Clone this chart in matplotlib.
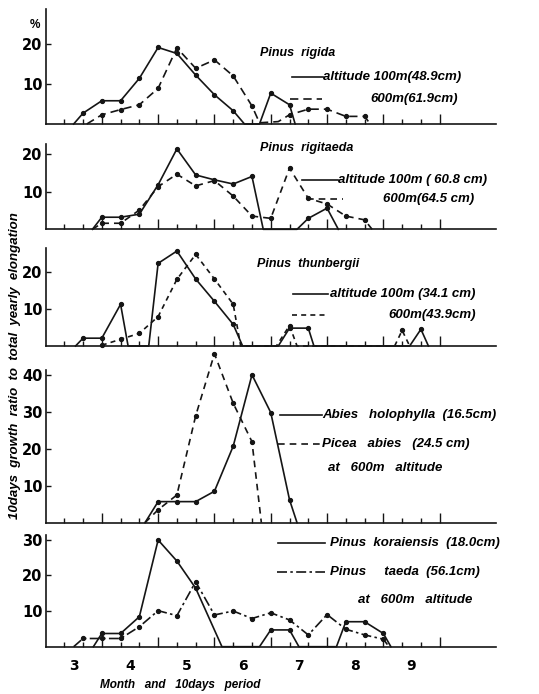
import matplotlib.pyplot as plt
from matplotlib.lines import Line2D
import numpy as np

plt.rcParams['font.family'] = ['Liberation Sans', 'DejaVu Sans']

W, H = 539, 694
INK = '#151515'

# x = ten-day period counted from 1 March (3 periods per month)
rigida_100_x = [1.5, 2, 3, 4, 5, 6, 7, 8, 9, 10, 10.6, 11.4, 12, 13, 13.3]
rigida_100_y = [0, 2.7, 5.8, 5.8, 11.4, 19.1, 17.6, 12.2, 7.3, 3.3, 0, 0, 7.7, 4.8, 0]
rigida_600_x = [2.2, 3, 4, 5, 6, 7, 8, 9, 10, 11, 11.4, 12.4, 13, 14, 15, 16, 17, 17.3]
rigida_600_y = [0, 2.3, 3.6, 4.8, 8.9, 19.0, 13.9, 16.0, 12.0, 4.5, 0.3, 0.6, 2.3, 3.7, 3.7, 1.9, 1.9, 0]

rigit_100_x = [2.5, 3, 4, 5, 6, 7, 8, 9, 10, 11, 11.6, 13.4, 14, 15, 15.6]
rigit_100_y = [0, 3.2, 3.2, 4.0, 11.8, 21.3, 14.4, 13.1, 12.0, 14.0, 0, 0, 2.9, 5.6, 0]
rigit_600_x = [2.5, 3, 4, 5, 6, 7, 8, 9, 10, 11, 12, 13, 14, 15, 16, 17, 17.4]
rigit_600_y = [0, 1.6, 1.6, 5.1, 11.3, 14.6, 11.5, 12.9, 8.8, 3.5, 2.9, 16.2, 8.2, 6.7, 3.5, 2.5, 0]

thun_100_x = [1.6, 2, 3, 4, 4.4, 5.5, 6, 7, 8, 9, 10, 10.5, 12.4, 13, 14, 14.3, 19.4, 20, 20.4]
thun_100_y = [0, 2.1, 2.1, 11.2, 0, 0, 22.2, 25.5, 18.0, 12.0, 5.8, 0, 0, 4.8, 4.8, 0, 0, 4.5, 0]
thun_600_x = [3, 4, 5, 6, 7, 8, 9, 10, 10.4, 12.3, 13, 13.4, 18.6, 19, 19.4]
thun_600_y = [0.2, 1.8, 3.4, 7.9, 17.9, 24.6, 18.0, 11.2, 0, 0, 5.5, 0, 0, 4.2, 0]

abies_x = [5.3, 6, 7, 8, 9, 10, 11, 12, 13, 13.4]
abies_y = [0, 5.7, 5.7, 5.7, 8.5, 20.7, 40.0, 29.8, 6.2, 0]
picea_x = [5.3, 6, 7, 8, 9, 10, 11, 11.5]
picea_y = [0, 3.5, 7.5, 28.9, 45.7, 32.3, 21.9, 0]

kor_x = [2.55, 3, 4, 5, 6, 7, 8, 9.4, 11.4, 12, 13, 13.5, 15.5, 16, 17, 18, 18.4]
kor_y = [0, 3.7, 3.7, 8.4, 29.9, 24.0, 16.4, 0, 0, 4.7, 4.7, 0, 0, 7.0, 7.0, 3.7, 0]
taeda_x = [1.5, 2, 3, 4, 5, 6, 7, 8, 9, 10, 11, 12, 13, 14, 15, 16, 17, 18, 18.3]
taeda_y = [0, 2.3, 2.3, 2.3, 5.6, 10.1, 8.7, 18.2, 8.9, 10.0, 7.9, 9.5, 7.5, 3.3, 9.0, 4.9, 3.3, 2.1, 0]

months = ['3', '4', '5', '6', '7', '8', '9']
month_pos = [1.5, 4.5, 7.5, 10.5, 13.5, 16.5, 19.5]

# panel layout in pixels (top, bottom), y max, y ticks
panels = [
    (9, 124, 28.7, [10, 20]),
    (144, 229.3, 22.6, [10, 20]),
    (247.7, 346, 26.4, [10, 20]),
    (370, 522.7, 41.3, [10, 20, 30, 40]),
    (535, 646.7, 31.3, [10, 20, 30]),
]
series = [
    [(rigida_100_x, rigida_100_y, '-'), (rigida_600_x, rigida_600_y, (0, (5, 3)))],
    [(rigit_100_x, rigit_100_y, '-'), (rigit_600_x, rigit_600_y, (0, (4, 3)))],
    [(thun_100_x, thun_100_y, '-'), (thun_600_x, thun_600_y, (0, (3, 2.5)))],
    [(abies_x, abies_y, '-'), (picea_x, picea_y, (0, (4, 3)))],
    [(kor_x, kor_y, '-'), (taeda_x, taeda_y, (0, (6, 2, 1.5, 2)))],
]

fig = plt.figure(figsize=(W / 100, H / 100), dpi=100)
left, right = 45.5, 496
axes = []
for (top, bot, ymax, yt), ser in zip(panels, series):
    ax = fig.add_axes([left / W, 1 - bot / H, (right - left) / W, (bot - top) / H])
    for x, y, ls in ser:
        x = np.array(x, dtype=float)
        y = np.array(y, dtype=float)
        ax.plot(x, y, color=INK, lw=1.2, ls=ls, clip_on=False)
        m = (x == np.round(x)) & (y > 0)
        ax.plot(x[m], y[m], 'o', color=INK, ms=2.8, clip_on=False)
    ax.set_xlim(0, 24)
    ax.set_ylim(0, ymax)
    for s in ['top', 'right']:
        ax.spines[s].set_visible(False)
    for s in ['left', 'bottom']:
        ax.spines[s].set_linewidth(1.2)
        ax.spines[s].set_color(INK)
    ax.set_xticks([3, 6, 9, 12, 15, 18, 21])
    ax.set_xticks([i for i in range(1, 21) if i % 3], minor=True)
    ax.set_xticklabels([])
    ax.set_yticks(yt)
    ax.set_yticklabels([str(v) for v in yt], fontsize=10.5, fontweight='bold',
                       family='DejaVu Sans')
    ax.tick_params(axis='x', which='major', direction='in', length=7, width=1, color=INK)
    ax.tick_params(axis='x', which='minor', direction='in', length=3.5, width=1, color=INK)
    ax.tick_params(axis='y', direction='in', length=3.5, width=1, pad=2, color=INK)
    axes.append(ax)

ax5 = axes[-1]
for p, lab in zip(month_pos, months):
    ax5.text(p, -0.175, lab, transform=ax5.get_xaxis_transform(), ha='center',
             va='center', fontsize=10, fontweight='bold', family='DejaVu Sans')


def px_text(x, y, s, size=9.5, style='italic', **kw):
    fig.text(x / W, 1 - y / H, s, fontsize=size, fontweight='bold', style=style,
             va='center', ha='left', **kw)


def px_line(x0, x1, y, ls='-'):
    fig.add_artist(Line2D([x0 / W, x1 / W], [1 - y / H, 1 - y / H], color=INK,
                          lw=1.2, ls=ls))


px_text(30, 25, '%', size=8.5, style='normal')

px_text(260, 53, 'Pinus  rigida', size=9)
px_line(292, 323, 77)
px_text(323, 77, 'altitude 100m(48.9cm)')
px_line(290, 322, 99, (0, (5, 3)))
px_text(370, 99, '600m(61.9cm)')

px_text(260, 148, 'Pinus  rigitaeda', size=9)
px_line(302, 338, 180)
px_text(338, 180, 'altitude 100m ( 60.8 cm)')
px_line(307, 343, 199, (0, (4, 3)))
px_text(383, 199, '600m(64.5 cm)')

px_text(257, 264, 'Pinus  thunbergii', size=9)
px_line(293, 328, 294)
px_text(330, 294, 'altitude 100m (34.1 cm)')
px_line(292, 325, 315, (0, (3, 2.5)))
px_text(388, 315, '600m(43.9cm)')

px_line(280, 322, 415)
px_text(322, 415, 'Abies   holophylla  (16.5cm)')
px_line(278, 322, 444, (0, (4, 3)))
px_text(322, 444, 'Picea   abies   (24.5 cm)')
px_text(328, 468, 'at   600m   altitude')

px_line(278, 325, 543)
px_text(330, 543, 'Pinus  koraiensis  (18.0cm)')
px_line(277, 325, 572, (0, (6, 2, 1.5, 2)))
px_text(330, 572, 'Pinus     taeda  (56.1cm)')
px_text(358, 600, 'at   600m   altitude')

px_text(100, 685, 'Month   and   10days   period', size=8.5)
fig.text(15 / W, 1 - 366 / H, '10days  growth  ratio  to  total  yearly  elongation',
         rotation=90, fontsize=9.5, fontweight='bold', style='italic',
         ha='center', va='center')

fig.savefig('out.png', dpi=100, facecolor='white')
